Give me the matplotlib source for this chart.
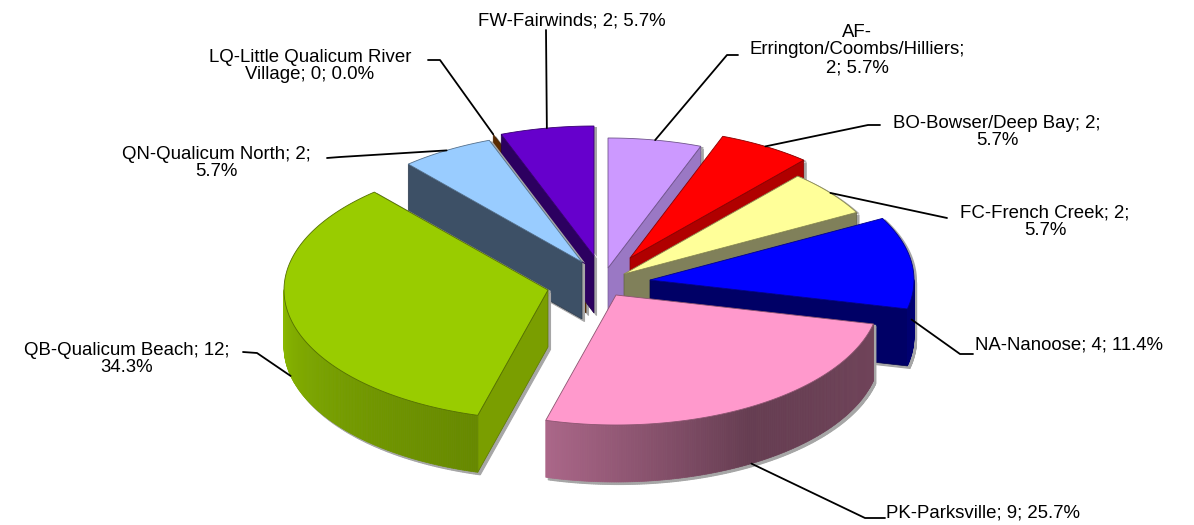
import numpy as np
import matplotlib
matplotlib.use("Agg")
import matplotlib.pyplot as plt
from matplotlib.patches import Polygon

plt.rcParams['font.family'] = ['Liberation Sans', 'DejaVu Sans']

# ---- data ----
codes = ["AF", "BO", "FC", "NA", "PK", "QB", "QN", "LQ", "FW"]
names = ["AF-\nErrington/Coombs/Hilliers;\n2; 5.7%", "BO-Bowser/Deep Bay; 2;\n5.7%",
         "FC-French Creek; 2;\n5.7%", "NA-Nanoose; 4; 11.4%", "PK-Parksville; 9; 25.7%",
         "QB-Qualicum Beach; 12;\n34.3%", "QN-Qualicum North; 2;\n5.7%",
         "LQ-Little Qualicum River\nVillage; 0; 0.0%", "FW-Fairwinds; 2; 5.7%"]
values = [2, 2, 2, 4, 9, 12, 2, 0, 2]

# ---- styles / layout ----
top_colors = ["#CC99FF", "#FF0000", "#FFFF99", "#0000FF", "#FF99CC", "#99CC00", "#99CCFF", "#663300", "#6600CC"]
wall_colors = ["#9A78C4", "#B00000", "#80805A", "#000066", "#6A4054", "#7A9E00", "#3D5066", "#5A2A00", "#2C0060"]
explode_px = [(12, -12), (34, -22), (28, -6), (54, 0), (20, 15), (-48, 10), (-14, -18), (-10, -24), (-2, -24)]
center = (596, 280)
RX, RY, DEPTH = 264, 130, 57
draw_order = ["LQ", "FW", "QN", "AF", "BO", "FC", "NA", "QB", "PK"]
# label anchor (px), ha, leader elbow (px), leader starts from wall bottom?
label_pos = {
    "FW": (572, 21, "center", (546, 30), None, False),
    "AF": (857, 50, "center", (727, 55), (738, 55), False),
    "BO": (997, 132, "center", (868, 125), (880, 125), False),
    "FC": (1045, 222, "center", (947, 218), None, False),
    "NA": (975, 345, "left", (960, 354), (973, 354), True),
    "PK": (886, 513, "left", (865, 518), (885, 518), True),
    "QB": (127, 359, "center", (257, 353), (243, 352), True),
    "QN": (216, 163, "center", (340, 157), (327, 158), False),
    "LQ": (310, 66, "center", (440, 60), (428, 60), False),
}
shade_angle = [90, 150, 195.4, 230, 270, 360]
shade_level = [0.45, 0.40, 0.67, 0.76, 0.90, 0.90]

total = sum(values)
edges = np.concatenate([[0], np.cumsum(values)]) / total * 360
rgb = matplotlib.colors.to_rgb

fig = plt.figure(figsize=(11.94, 5.25), dpi=100)
ax = fig.add_axes([0, 0, 1, 1])
ax.set_xlim(0, 1194)
ax.set_ylim(525, 0)
ax.axis("off")


def rim(ax0, ay0, deg):
    r = np.radians(deg)
    return ax0 + RX * np.sin(r), ay0 - RY * np.cos(r)


def draw_slice(i):
    a0, a1 = edges[i], edges[i + 1]
    ox, oy = center[0] + explode_px[i][0], center[1] + explode_px[i][1]
    th = np.linspace(a0, a1, max(2, int((a1 - a0) * 2) + 1))
    px, py = rim(ox, oy, th)
    top = np.column_stack([np.r_[ox, px], np.r_[oy, py]])
    faces = []
    if 180 < a0 % 360 < 360:
        faces.append(([(ox, oy), (px[0], py[0]), (px[0], py[0] + DEPTH), (ox, oy + DEPTH)], wall_colors[i]))
    if 0 < a1 < 180:
        faces.append(([(ox, oy), (px[-1], py[-1]), (px[-1], py[-1] + DEPTH), (ox, oy + DEPTH)], wall_colors[i]))
    base = np.array(rgb(top_colors[i]))
    strips = []
    for k in range(len(th) - 1):
        mid = (th[k] + th[k + 1]) / 2
        if 90 < mid < 270:
            f = np.interp(mid, shade_angle, shade_level)
            strips.append(([(px[k], py[k]), (px[k + 1], py[k + 1]),
                            (px[k + 1], py[k + 1] + DEPTH), (px[k], py[k] + DEPTH)], tuple(base * f)))
    # soft grey drop shadow
    for poly, _ in faces + strips:
        ax.add_patch(Polygon(np.array(poly) + (2.5, 2.5), closed=True, fc="#A6A6A6", ec="#A6A6A6", lw=0.8))
    ax.add_patch(Polygon(top + (3, 1), closed=True, fc="#A6A6A6", ec="none"))
    for poly, col in faces:
        ax.add_patch(Polygon(poly, closed=True, fc=col, ec=tuple(np.array(rgb(col)) * 0.75), lw=0.5))
    for poly, col in strips:
        ax.add_patch(Polygon(poly, closed=True, fc=col, ec=col, lw=0.5))
    if a1 > a0:
        ax.add_patch(Polygon(top, closed=True, fc=top_colors[i], ec=tuple(base * 0.55), lw=0.6))


for code in draw_order:
    draw_slice(codes.index(code))

for i, code in enumerate(codes):
    x, y, ha, elbow, start, low = label_pos[code]
    ax.text(x, y, names[i], ha=ha, va="center", ma="center" if ha == "center" else "left",
            fontsize=13.4, color="black", linespacing=1.07)
    ox, oy = center[0] + explode_px[i][0], center[1] + explode_px[i][1]
    mid = (edges[i] + edges[i + 1]) / 2
    ex, ey = rim(ox, oy, mid)
    if low:
        ey += DEPTH
    pts = [(ex, ey), elbow] + ([start] if start else [])
    ax.plot(*zip(*pts), color="black", lw=1.3, solid_capstyle="round")

fig.savefig("out.png", dpi=100)
